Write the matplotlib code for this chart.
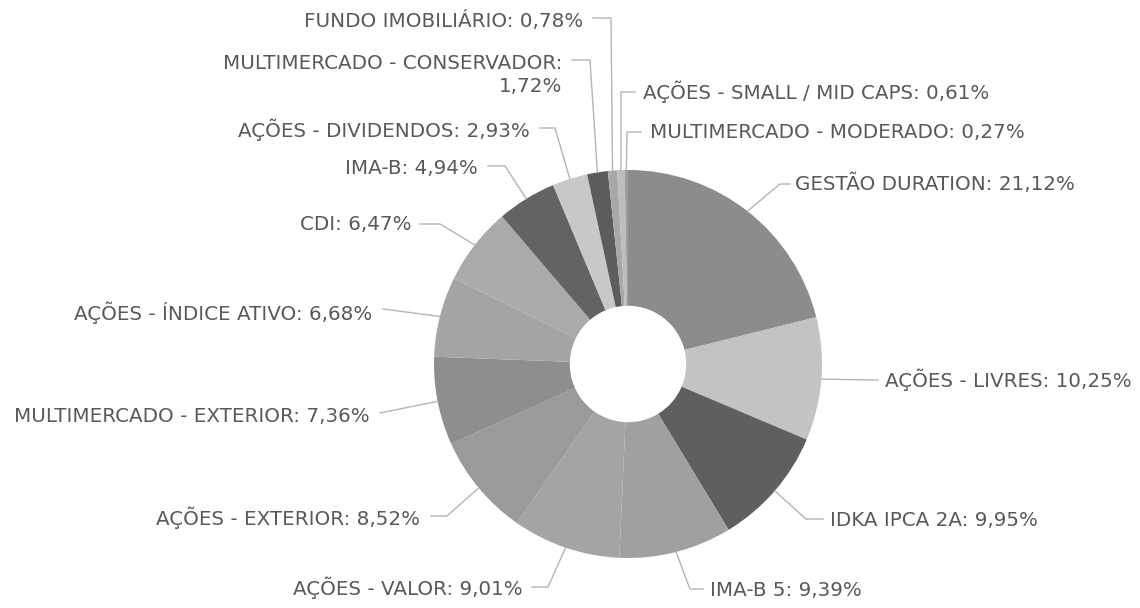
import numpy as np
import matplotlib.pyplot as plt

W, H = 1140, 608

labels = ['GESTÃO DURATION', 'AÇÕES - LIVRES', 'IDKA IPCA 2A', 'IMA-B 5',
          'AÇÕES - VALOR', 'AÇÕES - EXTERIOR', 'MULTIMERCADO - EXTERIOR',
          'AÇÕES - ÍNDICE ATIVO', 'CDI', 'IMA-B', 'AÇÕES - DIVIDENDOS',
          'MULTIMERCADO - CONSERVADOR', 'FUNDO IMOBILIÁRIO',
          'AÇÕES - SMALL / MID CAPS', 'MULTIMERCADO - MODERADO']
values = [21.12, 10.25, 9.95, 9.39, 9.01, 8.52, 7.36, 6.68, 6.47, 4.94,
          2.93, 1.72, 0.78, 0.61, 0.27]
colors = ['#8c8c8c', '#c3c3c3', '#5f5f5f', '#a0a0a0', '#a4a4a4', '#9a9a9a',
          '#8e8e8e', '#a4a4a4', '#aaaaaa', '#636363', '#c8c8c8', '#5c5c5c',
          '#a8a8a8', '#bdbdbd', '#9c9c9c']

# label layout in pixels (from top-left): text x, text y, ha, bend points
layout = [
    (795, 184, 'left', [(780, 184), (790, 184)]),
    (885, 380, 'left', [(878, 380)]),
    (830, 520, 'left', [(806, 519), (823, 519)]),
    (710, 590, 'left', [(690, 589), (703, 589)]),
    (523, 588, 'right', [(548, 587), (532, 587)]),
    (420, 518, 'right', [(447, 516), (431, 516)]),
    (370, 417, 'right', [(380, 413)]),
    (372, 313, 'right', [(383, 309)]),
    (412, 225, 'right', [(440, 224), (420, 224)]),
    (478, 168, 'right', [(505, 166), (488, 166)]),
    (530, 130, 'right', [(555, 128), (540, 128)]),
    (562, 62, 'right', [(590, 60), (572, 60)]),
    (583, 21, 'right', [(611, 18), (593, 18)]),
    (643, 92, 'left', [(621, 92), (635, 92)]),
    (650, 132, 'left', [(627, 132), (641, 132)]),
]

def Y(py):
    return H - py

fig = plt.figure(figsize=(W / 100, H / 100), dpi=100)
ax = fig.add_axes([0, 0, 1, 1])

wedges, _ = ax.pie(values, colors=colors, startangle=90, counterclock=False,
                   center=(628, Y(364)), radius=194,
                   wedgeprops=dict(width=194 * 0.7, linewidth=0))
ax.set_xlim(0, W)
ax.set_ylim(0, H)
ax.set_aspect('equal')
ax.axis('off')

fs = 14.3
for w, lab, v, (tx, ty, ha, bends) in zip(wedges, labels, values, layout):
    # leader line from the outer edge of the slice
    mid = np.radians((w.theta1 + w.theta2) / 2)
    cx, cy = w.center
    xs = [cx + w.r * np.cos(mid)] + [b[0] for b in bends]
    ys = [cy + w.r * np.sin(mid)] + [Y(b[1]) for b in bends]
    ax.plot(xs, ys, color='#b4b4b4', lw=1)
    txt = f'{lab}: {v:.2f}%'.replace('.', ',')
    if lab == 'MULTIMERCADO - CONSERVADOR':
        txt = txt.replace(': ', ':\n')
        ax.text(tx, Y(ty + 13), txt, ha=ha, va='center', fontsize=fs,
                color='#595959', multialignment='right', linespacing=1.25)
    else:
        ax.text(tx, Y(ty), txt, ha=ha, va='center', fontsize=fs, color='#595959')

fig.savefig('out.png', dpi=100)
